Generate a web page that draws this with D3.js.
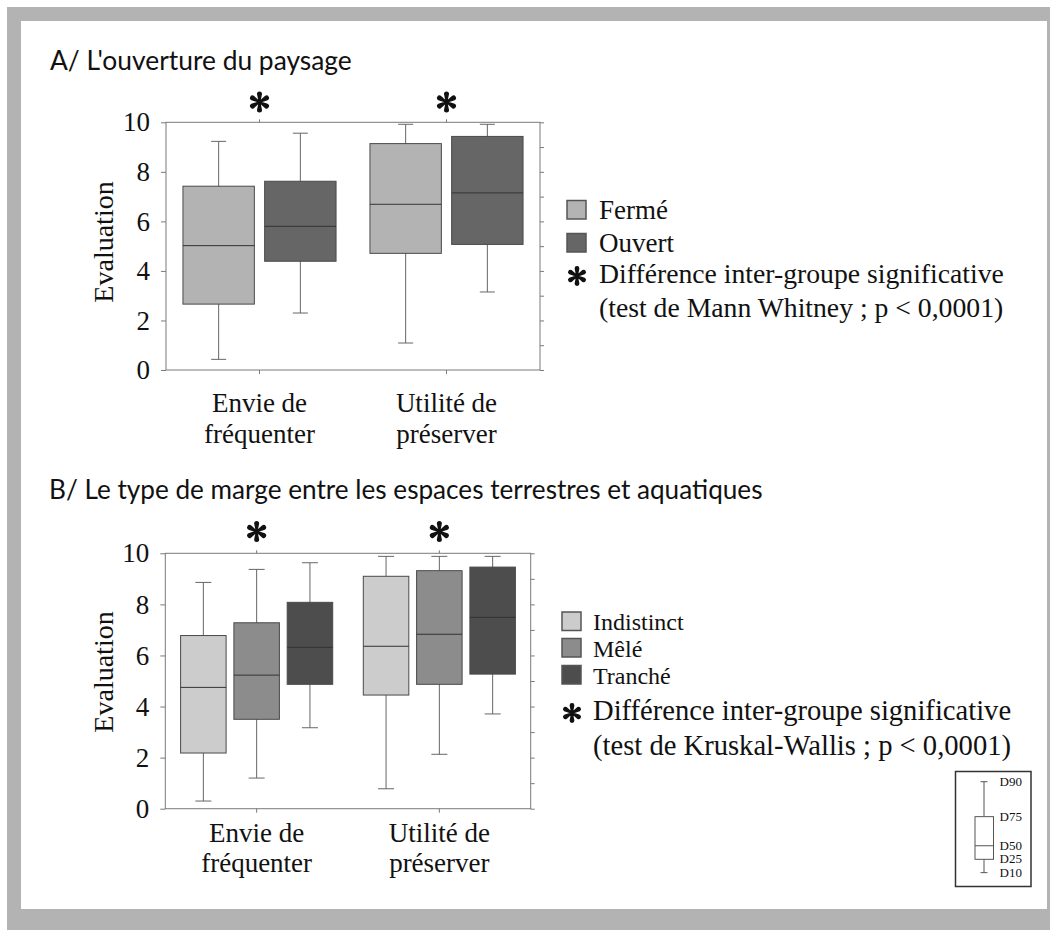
<!DOCTYPE html>
<html><head><meta charset="utf-8">
<script src="https://cdn.jsdelivr.net/npm/d3@7"></script>
<style>body{margin:0;background:#fff}svg{display:block}</style>
</head><body><svg id="c" width="1050" height="930"></svg>
<script>
// ---------- data ----------
const categories = ["Envie de fréquenter", "Utilité de préserver"];
const categoryLines = [["Envie de", "fréquenter"], ["Utilité de", "préserver"]];
const yTicks = [0, 2, 4, 6, 8, 10];
const minorTicks = [0, 1, 2, 3, 4, 5, 6, 7, 8, 9, 10];

// each entry: [D10, D25, D50, D75, D90]
const seriesA = ["Fermé", "Ouvert"];
const fermeValues = [[0.43, 2.66, 5.02, 7.42, 9.23], [1.09, 4.71, 6.69, 9.14, 9.92]];
const ouvertValues = [[2.30, 4.39, 5.80, 7.62, 9.56], [3.15, 5.07, 7.15, 9.43, 9.92]];
const significantA = [true, true];

const seriesB = ["Indistinct", "Mêlé", "Tranché"];
const indistinctValues = [[0.30, 2.18, 4.75, 6.78, 8.86], [0.78, 4.45, 6.36, 9.10, 9.88]];
const meleValues = [[1.20, 3.50, 5.23, 7.28, 9.37], [2.13, 4.87, 6.83, 9.32, 9.88]];
const trancheValues = [[3.17, 4.87, 6.32, 8.08, 9.63], [3.71, 5.27, 7.49, 9.46, 9.88]];
const significantB = [true, true];

const titleA = "A/ L'ouverture du paysage";
const titleB = "B/ Le type de marge entre les espaces terrestres et aquatiques";
const yLabel = "Evaluation";
const sigLinesA = ["Différence inter-groupe significative", "(test de Mann Whitney ; p < 0,0001)"];
const sigLinesB = ["Différence inter-groupe significative", "(test de Kruskal-Wallis ; p < 0,0001)"];
const decileLabels = ["D10", "D25", "D50", "D75", "D90"];
const decileExample = [1.16, 2.32, 3.5, 6.03, 9.07];

// ---------- drawing ----------
const svg = d3.select("#c");
const SERIF = "'Liberation Serif','Times New Roman',serif";
const SANS = "Lato,'Open Sans',sans-serif";
const AXIS = "#7a7a7a";

// frame
svg.append("rect").attr("x", 7).attr("y", 7).attr("width", 1060).attr("height", 940).attr("fill", "#b3b3b3");
svg.append("rect").attr("x", 21).attr("y", 21).attr("width", 1026).attr("height", 888).attr("fill", "#fff");

function fitWidth(sel, w) {
  const cur = sel.node().getComputedTextLength();
  const fs = parseFloat(sel.style("font-size"));
  sel.style("font-size", (fs * w / cur) + "px");
}

function asteriskPath(r) {
  // six teardrop spokes
  let p = "";
  for (let k = 0; k < 6; k++) {
    const a = k * Math.PI / 3 - Math.PI / 2;
    const ca = Math.cos(a), sa = Math.sin(a);
    const px = -sa, py = ca;
    const w0 = 0.9, w1 = r * 0.24;
    const L = r - w1;
    p += `M${(-px * w0).toFixed(2)},${(-py * w0).toFixed(2)}L${(px * w0).toFixed(2)},${(py * w0).toFixed(2)}`;
    p += `L${(ca * L + px * w1).toFixed(2)},${(sa * L + py * w1).toFixed(2)}`;
    p += `A${w1.toFixed(2)},${w1.toFixed(2)} 0 1 0 ${(ca * L - px * w1).toFixed(2)},${(sa * L - py * w1).toFixed(2)}Z`;
  }
  return p;
}

function drawAsterisk(g, x, y, r) {
  g.append("path").attr("d", asteriskPath(r)).attr("transform", `translate(${x},${y})`).attr("fill", "#111");
  g.append("circle").attr("cx", x).attr("cy", y).attr("r", r * 0.22).attr("fill", "#111");
}

function serifText(sel, size) {
  return sel.style("font-family", SERIF).style("font-size", size + "px").attr("fill", "#111");
}

function drawPanel(cfg) {
  const g = svg.append("g");
  const x = d3.scaleBand().domain(categories).range([cfg.left, cfg.right]);
  const xi = d3.scaleBand().domain(cfg.series).range([0, x.bandwidth()])
    .paddingInner(cfg.padInner).paddingOuter(cfg.padOuter);
  const y = d3.scaleLinear().domain([0, 10]).range([cfg.bottom, cfg.top]);

  const style = s => {
    s.select(".domain").remove();
    s.selectAll(".tick line").attr("stroke", AXIS);
    serifText(s.selectAll(".tick text"), 27);
  };

  g.append("g").attr("transform", `translate(${cfg.left},0)`)
    .call(d3.axisLeft(y).tickValues(yTicks).tickSize(5).tickPadding(11).tickFormat(d3.format("d")))
    .call(style);
  g.append("g").attr("transform", `translate(${cfg.right},0)`)
    .call(d3.axisRight(y).tickValues(minorTicks).tickSize(4).tickFormat(""))
    .call(style);
  g.append("g").attr("transform", `translate(0,${cfg.top})`)
    .call(d3.axisTop(x).tickSize(3).tickFormat(""))
    .call(style);
  g.append("g").attr("transform", `translate(0,${cfg.bottom})`)
    .call(d3.axisBottom(x).tickSize(4).tickFormat(""))
    .call(style);
  g.append("rect").attr("x", cfg.left).attr("y", cfg.top)
    .attr("width", cfg.right - cfg.left).attr("height", cfg.bottom - cfg.top)
    .attr("fill", "none").attr("stroke", AXIS).attr("stroke-width", 1);

  // boxes
  cfg.series.forEach((s, si) => {
    cfg.values[si].forEach((v, ci) => {
      const bx = x(categories[ci]) + xi(s);
      const bw = xi.bandwidth();
      const cx = bx + bw / 2;
      const gb = g.append("g");
      gb.append("line").attr("x1", cx).attr("x2", cx).attr("y1", y(v[0])).attr("y2", y(v[4]))
        .attr("stroke", "#666").attr("stroke-width", 1);
      [v[0], v[4]].forEach(w => gb.append("line")
        .attr("x1", cx - cfg.cap / 2).attr("x2", cx + cfg.cap / 2).attr("y1", y(w)).attr("y2", y(w))
        .attr("stroke", "#666").attr("stroke-width", 1));
      gb.append("rect").attr("x", bx).attr("y", y(v[3])).attr("width", bw).attr("height", y(v[1]) - y(v[3]))
        .attr("fill", cfg.colors[si]).attr("stroke", "#4a4a4a").attr("stroke-width", 1);
      gb.append("line").attr("x1", bx).attr("x2", bx + bw).attr("y1", y(v[2])).attr("y2", y(v[2]))
        .attr("stroke", "#333").attr("stroke-width", 1);
    });
  });

  // significance asterisks
  cfg.significant.forEach((sig, ci) => {
    if (sig) drawAsterisk(g, x(categories[ci]) + x.bandwidth() / 2, cfg.starY, 10.5);
  });

  // category labels
  categoryLines.forEach((lines, ci) => {
    lines.forEach((t, li) => {
      serifText(g.append("text").attr("x", x(categories[ci]) + x.bandwidth() / 2)
        .attr("y", cfg.bottom + cfg.labelOffsets[li])
        .attr("text-anchor", "middle"), 27).text(t);
    });
  });

  // y label
  serifText(g.append("text").attr("transform", `translate(${cfg.yLabelX},${cfg.yLabelY}) rotate(-90)`)
    .attr("text-anchor", "middle"), 28).text(yLabel);

  // title
  const tt = g.append("text").attr("x", cfg.titleX).attr("y", cfg.titleY)
    .style("font-family", SANS).style("font-size", "24px").attr("fill", "#111").text(cfg.title);
  fitWidth(tt, cfg.titleW);

  // legend
  cfg.series.forEach((s, si) => {
    const ly = cfg.legY[si];
    g.append("rect").attr("x", cfg.legX).attr("y", ly - 18).attr("width", 19).attr("height", 18.5)
      .attr("fill", cfg.colors[si]).attr("stroke", "#555").attr("stroke-width", 1.5);
    serifText(g.append("text").attr("x", cfg.legTextX).attr("y", ly), cfg.itemFont).text(s);
  });
  drawAsterisk(g, cfg.legX + 10, cfg.sigY[0] - 7, 10);
  cfg.sigLines.forEach((t, i) => {
    serifText(g.append("text").attr("x", cfg.legTextX).attr("y", cfg.sigY[i]), cfg.legFont).text(t);
  });
}

drawPanel({
  left: 166, right: 540, top: 122.3, bottom: 370,
  series: seriesA, values: [fermeValues, ouvertValues], colors: ["#b3b3b3", "#666666"],
  padInner: 0.126, padOuter: 0.2075, cap: 15,
  significant: significantA, starY: 102,
  labelOffsets: [41.7, 73.3], yLabelX: 113, yLabelY: 242,
  title: titleA, titleX: 50, titleY: 70, titleW: 302,
  legX: 567, legTextX: 599, legY: [218.5, 251.5], legFont: 27.7, itemFont: 27,
  sigY: [283, 316.7], sigLines: sigLinesA
});

drawPanel({
  left: 165.3, right: 530.7, top: 553.3, bottom: 808.7,
  series: seriesB, values: [indistinctValues, meleValues, trancheValues],
  colors: ["#cccccc", "#8c8c8c", "#4d4d4d"],
  padInner: 0.146, padOuter: 0.287, cap: 16,
  significant: significantB, starY: 531.5,
  labelOffsets: [33.5, 63.5], yLabelX: 113, yLabelY: 672,
  title: titleB, titleX: 49, titleY: 499, titleW: 714,
  legX: 562, legTextX: 593, legY: [630, 656.5, 683.5], legFont: 28.6, itemFont: 24,
  sigY: [720, 755], sigLines: sigLinesB
});

// ---------- decile key ----------
const key = svg.append("g");
key.append("rect").attr("x", 955.5).attr("y", 771.5).attr("width", 75.5).attr("height", 115)
  .attr("fill", "#fff").attr("stroke", "#333").attr("stroke-width", 1.5);
const ky = d3.scaleLinear().domain([0, 10]).range([886, 771]);
const kx = 984;
key.append("line").attr("x1", kx).attr("x2", kx).attr("y1", ky(decileExample[0])).attr("y2", ky(decileExample[4]))
  .attr("stroke", "#555");
[decileExample[0], decileExample[4]].forEach(v => key.append("line")
  .attr("x1", kx - 3.5).attr("x2", kx + 3.5).attr("y1", ky(v)).attr("y2", ky(v)).attr("stroke", "#555"));
key.append("rect").attr("x", 975).attr("y", ky(decileExample[3])).attr("width", 18.5)
  .attr("height", ky(decileExample[1]) - ky(decileExample[3])).attr("fill", "#fff").attr("stroke", "#555");
key.append("line").attr("x1", 975).attr("x2", 993.5).attr("y1", ky(decileExample[2])).attr("y2", ky(decileExample[2]))
  .attr("stroke", "#555");
const labelNudge = [0, -0.5, 0, 0, 0];
decileLabels.forEach((t, i) => {
  serifText(key.append("text").attr("x", 999.5).attr("y", ky(decileExample[i]) + 4.5 + labelNudge[i]), 13).text(t);
});
</script></body></html>
